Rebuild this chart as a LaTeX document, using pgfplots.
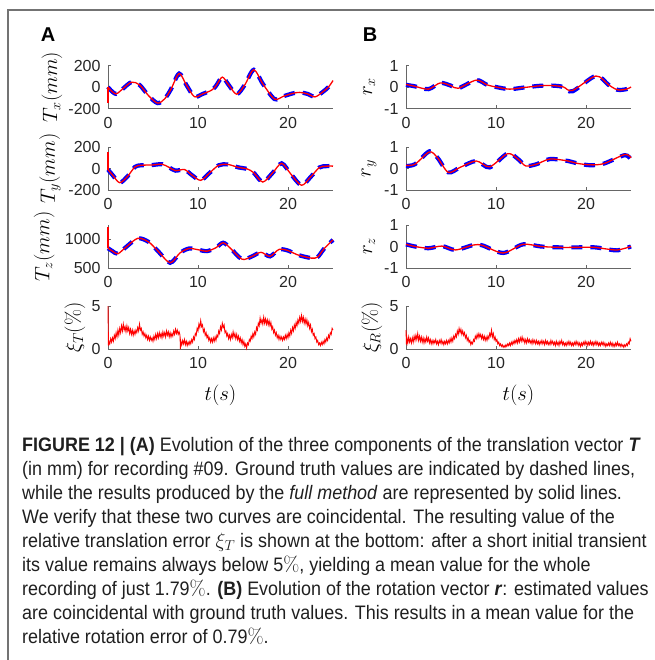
\documentclass[border=0pt]{standalone}
\usepackage[no-math]{fontspec}
\setmainfont{Liberation Sans}
\newfontfamily\capfont[FakeStretch=0.92]{Liberation Sans}
\usepackage{pgfplots}
\pgfplotsset{compat=1.18}

\definecolor{gtblue}{RGB}{0,0,255}
\definecolor{estred}{RGB}{255,0,0}
\definecolor{axgray}{RGB}{38,38,38}

\pgfplotsset{
  panel/.style={
    scale only axis, width=225pt, height=43pt,
    anchor=south west,
    xmin=0, xmax=25,
    xtick={0,10,20}, xticklabels={0,10,20},
    axis lines=left, axis line style={-, black!60, line width=0.8pt},
    tick align=inside, major tick length=3pt,
    tick style={black!60, line width=0.8pt},
    tick label style={font=\fontsize{16}{16}\selectfont, text=axgray},
    xticklabel style={yshift=-5pt},
    yticklabel style={xshift=-4pt},
    every axis y label/.style={rotate=90, anchor=center, font=\fontsize{22}{24}\selectfont},
    every axis x label/.style={at={(axis description cs:0.5,0)}, anchor=center, yshift=-46pt, font=\fontsize{22}{24}\selectfont},
    clip=false,
  },
  gt/.style={gtblue, line width=4.2pt, dash pattern=on 11pt off 8pt},
  est/.style={estred, line width=1.3pt},
  err/.style={estred, line width=0.9pt},
}

\begin{document}
\begin{tikzpicture}
\path[use as bounding box] (0pt,0pt) rectangle (654pt,-660pt);
\draw[black!55, line width=1.2pt] (8pt,-660pt) -- (8pt,-10pt) -- (654pt,-10pt);

\node[font=\bfseries\fontsize{20}{20}\selectfont] at (48pt,-35pt) {A};
\node[font=\bfseries\fontsize{20}{20}\selectfont] at (370pt,-35pt) {B};

% ---- column A ----
\begin{axis}[panel, at={(108pt,-108.5pt)},
  ymin=-200, ymax=200, ytick={-200,0,200}, yticklabels={-200,0,200},
  ylabel={$T_x(mm)$}, ylabel style={at={(axis description cs:-0.249,0.5)}}]
\addplot[gt, smooth] coordinates {(0,0)(0.3,-30)(0.9,-64)(1.6,-20)(2.6,45)(3.5,20)(4.5,-80)(5.5,-150)(6.3,-110)(7,-20)(7.9,125)(8.7,20)(9.6,-90)(10.5,-65)(11.5,-30)(12,10)(12.7,92)(13.4,20)(14.3,-67)(15.2,20)(16.2,160)(17.2,30)(18.5,-112)(19.5,-86)(20.5,-60)(21.3,-50)(22.2,-65)(23,-92)(23.8,-50)(24.5,0)(25,60)};
\addplot[est] coordinates {(0,-150)(0,0)};
\addplot[est, smooth] coordinates {(0,0)(0.3,-30)(0.9,-64)(1.6,-20)(2.6,45)(3.5,20)(4.5,-80)(5.5,-150)(6.3,-110)(7,-20)(7.9,125)(8.7,20)(9.6,-90)(10.5,-65)(11.5,-30)(12,10)(12.7,92)(13.4,20)(14.3,-67)(15.2,20)(16.2,160)(17.2,30)(18.5,-112)(19.5,-86)(20.5,-60)(21.3,-50)(22.2,-65)(23,-92)(23.8,-50)(24.5,0)(25,60)};
\end{axis}

\begin{axis}[panel, at={(108pt,-190pt)},
  ymin=-200, ymax=200, ytick={-200,0,200}, yticklabels={-200,0,200},
  ylabel={$T_y(mm)$}, ylabel style={at={(axis description cs:-0.258,0.5)}}]
\addplot[gt, smooth] coordinates {(0,-10)(0.5,-60)(1.3,-132)(2.2,-70)(3,15)(3.7,30)(5,33)(6,40)(6.8,10)(7.5,-20)(8.5,-10)(9.3,-60)(10.3,-110)(11.3,-40)(12.3,30)(13.3,38)(14.5,10)(15.5,-5)(16.2,-40)(17.2,-126)(18.3,-40)(19.3,48)(20.3,-50)(21.5,-156)(22.5,-80)(23.5,10)(24.3,22)(25,22)};
\addplot[est] coordinates {(0,150)(0,-10)};
\addplot[est, smooth] coordinates {(0,-10)(0.5,-60)(1.3,-132)(2.2,-70)(3,15)(3.7,30)(5,33)(6,40)(6.8,10)(7.5,-20)(8.5,-10)(9.3,-60)(10.3,-110)(11.3,-40)(12.3,30)(13.3,38)(14.5,10)(15.5,-5)(16.2,-40)(17.2,-126)(18.3,-40)(19.3,48)(20.3,-50)(21.5,-156)(22.5,-80)(23.5,10)(24.3,22)(25,22)};
\end{axis}

\begin{axis}[panel, at={(108pt,-268pt)},
  ymin=500, ymax=1240, ytick={500,1000}, yticklabels={500,1000},
  ylabel={$T_z(mm)$}, ylabel style={at={(axis description cs:-0.284,0.5)}}]
\addplot[gt, smooth] coordinates {(0,840)(0.5,790)(1.1,745)(2,860)(3.3,1010)(4.5,950)(5.5,800)(6.9,590)(8,760)(9,835)(10,815)(11,790)(12,850)(12.8,935)(13.6,840)(14.9,650)(16,700)(17,770)(18,700)(19,820)(20,800)(21,730)(22.6,670)(23.3,690)(24,830)(25,985)};
\addplot[est] coordinates {(0,1210)(0,840)};
\addplot[est, smooth] coordinates {(0,840)(0.5,790)(1.1,745)(2,860)(3.3,1010)(4.5,950)(5.5,800)(6.9,590)(8,760)(9,835)(10,815)(11,790)(12,850)(12.8,935)(13.6,840)(14.9,650)(16,700)(17,770)(18,700)(19,820)(20,800)(21,730)(22.6,670)(23.3,690)(24,830)(25,985)};
\end{axis}

\begin{axis}[panel, at={(108pt,-349pt)},
  ymin=0, ymax=5, ytick={0,5}, yticklabels={0,5},
  ylabel={$\xi_T(\%)$}, ylabel style={at={(axis description cs:-0.147,0.5)}},
  xlabel={$t(s)$}]
\addplot[err] coordinates {(0,5.0)(0.05,0.4)(0.1,0.9)(0.2,0.6)(0.3,1.2)(0.4,0.8)(0.5,1.3)(0.6,0.9)(0.7,1.6)(0.8,1.2)(0.9,1.9)(1.0,1.4)(1.1,2.2)(1.2,1.6)(1.3,2.4)(1.4,1.9)(1.5,2.7)(1.6,2.1)(1.7,2.9)(1.8,2.2)(1.9,2.6)(2.0,2.0)(2.1,2.7)(2.2,2.1)(2.3,2.5)(2.4,1.8)(2.5,2.3)(2.6,1.7)(2.7,2.2)(2.8,1.6)(2.9,2.1)(3.0,1.7)(3.1,2.2)(3.2,1.9)(3.3,2.5)(3.4,2.1)(3.5,2.9)(3.6,2.2)(3.7,2.4)(3.8,1.7)(3.9,2.0)(4.0,1.5)(4.1,1.8)(4.2,1.3)(4.3,1.6)(4.4,1.1)(4.5,1.5)(4.6,1.0)(4.7,1.4)(4.8,1.0)(4.9,1.3)(5.0,0.9)(5.1,1.5)(5.2,1.1)(5.3,1.7)(5.4,1.2)(5.5,1.8)(5.6,1.3)(5.7,1.9)(5.8,1.4)(5.9,1.8)(6.0,1.3)(6.1,2.0)(6.2,1.5)(6.3,1.9)(6.4,1.4)(6.5,2.1)(6.6,1.6)(6.7,2.0)(6.8,1.4)(6.9,1.9)(7.0,1.4)(7.1,1.8)(7.2,1.5)(7.3,2.1)(7.4,1.7)(7.5,2.3)(7.6,1.8)(7.7,2.2)(7.8,1.7)(7.9,2.0)(8.0,1.6)(8.05,0.0)(8.1,0.9)(8.2,0.5)(8.3,1.0)(8.4,0.6)(8.5,1.1)(8.6,0.5)(8.7,0.9)(8.8,0.4)(8.9,0.8)(9.0,0.5)(9.1,0.9)(9.2,0.6)(9.3,1.1)(9.4,0.8)(9.5,1.4)(9.6,1.1)(9.7,1.8)(9.8,1.6)(9.9,2.4)(10.0,2.1)(10.1,2.9)(10.2,2.5)(10.3,3.3)(10.4,2.6)(10.5,2.8)(10.6,2.0)(10.7,2.3)(10.8,1.6)(10.9,1.9)(11.0,1.3)(11.1,1.6)(11.2,1.0)(11.3,1.3)(11.4,0.8)(11.5,1.2)(11.6,0.8)(11.7,1.3)(11.8,0.9)(11.9,1.4)(12.0,1.0)(12.1,1.6)(12.2,1.4)(12.3,2.1)(12.4,1.8)(12.5,2.6)(12.6,2.2)(12.7,3.0)(12.8,2.5)(12.9,2.8)(13.0,1.9)(13.1,2.1)(13.2,1.5)(13.3,1.8)(13.4,1.2)(13.5,1.6)(13.6,1.1)(13.7,1.7)(13.8,1.3)(13.9,2.0)(14.0,1.4)(14.1,1.8)(14.2,1.2)(14.3,1.7)(14.4,1.1)(14.5,1.5)(14.6,0.9)(14.7,1.3)(14.8,0.7)(14.9,1.1)(15.0,0.5)(15.1,0.9)(15.2,0.3)(15.3,0.6)(15.4,0.1)(15.5,0.7)(15.6,0.5)(15.7,1.1)(15.8,0.9)(15.9,1.5)(16.0,1.2)(16.1,1.8)(16.2,1.4)(16.3,2.0)(16.4,1.7)(16.5,2.5)(16.6,2.2)(16.7,3.0)(16.8,2.7)(16.9,3.6)(17.0,3.0)(17.1,3.4)(17.2,2.9)(17.3,3.7)(17.4,3.0)(17.5,3.5)(17.6,2.9)(17.7,3.4)(17.8,2.8)(17.9,3.3)(18.0,2.7)(18.1,3.1)(18.2,2.3)(18.3,2.6)(18.4,1.9)(18.5,2.2)(18.6,1.6)(18.7,1.9)(18.8,1.3)(18.9,1.6)(19.0,1.1)(19.1,1.5)(19.2,1.1)(19.3,1.4)(19.4,1.0)(19.5,1.4)(19.6,1.1)(19.7,1.6)(19.8,1.2)(19.9,1.7)(20.0,1.3)(20.1,1.9)(20.2,1.5)(20.3,2.2)(20.4,1.8)(20.5,2.5)(20.6,2.1)(20.7,2.8)(20.8,2.4)(20.9,3.1)(21.0,2.7)(21.1,3.4)(21.2,3.0)(21.3,3.7)(21.4,3.2)(21.5,3.9)(21.6,3.2)(21.7,3.7)(21.8,3.0)(21.9,3.5)(22.0,2.9)(22.1,3.4)(22.2,2.7)(22.3,3.1)(22.4,2.4)(22.5,2.8)(22.6,2.0)(22.7,2.3)(22.8,1.6)(22.9,1.8)(23.0,1.2)(23.1,1.4)(23.2,0.8)(23.3,1.0)(23.4,0.5)(23.5,0.7)(23.6,0.4)(23.7,0.8)(23.8,0.5)(23.9,0.9)(24.0,0.6)(24.1,1.1)(24.2,0.8)(24.3,1.3)(24.4,1.0)(24.5,1.6)(24.6,1.3)(24.7,1.9)(24.8,1.7)(24.9,2.4)(25.0,2.2)};
\end{axis}

% ---- column B ----
\begin{axis}[panel, at={(406pt,-108.5pt)},
  ymin=-1, ymax=1, ytick={-1,0,1}, yticklabels={-1,0,1},
  ylabel={$r_x$}, ylabel style={at={(axis description cs:-0.164,0.5)}}]
\addplot[gt, smooth] coordinates {(0,0.1)(1,0.03)(2.5,-0.1)(3.8,0.19)(5,0.06)(5.8,-0.06)(7.8,0.32)(9,0.1)(10,0)(11.5,-0.1)(13,-0.03)(15,0.06)(16.5,0.06)(17.5,0)(18.5,-0.2)(21.1,0.52)(22.5,0.1)(23.5,-0.13)(24.5,-0.1)(25,0)};
\addplot[est, smooth] coordinates {(0,0.12)(1,0.03)(2.5,-0.1)(3.8,0.19)(5,0.06)(5.8,-0.06)(7.8,0.32)(9,0.1)(10,0)(11.5,-0.1)(13,-0.03)(15,0.06)(16.5,0.06)(17.5,0)(18.5,-0.16)(21.1,0.51)(22.5,0.1)(23.5,-0.13)(24.5,-0.1)(25,0)};
\end{axis}

\begin{axis}[panel, at={(406pt,-190pt)},
  ymin=-1, ymax=1, ytick={-1,0,1}, yticklabels={-1,0,1},
  ylabel={$r_y$}, ylabel style={at={(axis description cs:-0.164,0.5)}}]
\addplot[gt, smooth] coordinates {(0,0.12)(1,0.2)(2.6,0.8)(3.5,0.5)(4.7,-0.18)(6,0.05)(7.8,0.35)(9.3,0.05)(11.3,0.7)(12.5,0.42)(13.3,0.12)(14.5,0.2)(16,0.44)(18,0.35)(19,0.24)(20.5,0.15)(22,0.23)(24.3,0.62)(25,0.4)};
\addplot[est, smooth] coordinates {(0,0.15)(1,0.2)(2.6,0.77)(3.5,0.5)(4.7,-0.18)(6,0.05)(7.8,0.35)(9.3,0.08)(11.3,0.69)(12.5,0.42)(13.3,0.12)(14.5,0.2)(16,0.44)(18,0.35)(19,0.24)(20.5,0.17)(22,0.23)(24.3,0.65)(25,0.5)};
\end{axis}

\begin{axis}[panel, at={(406pt,-268pt)},
  ymin=-1, ymax=1, ytick={-1,0,1}, yticklabels={-1,0,1},
  ylabel={$r_z$}, ylabel style={at={(axis description cs:-0.164,0.5)}}]
\addplot[gt, smooth] coordinates {(0,0.1)(1,0)(2.5,-0.08)(4,0.02)(5.5,-0.16)(7.5,0.07)(8.5,0.05)(10.8,-0.3)(13,0.1)(15,0)(17,-0.04)(19,-0.04)(21,-0.04)(22,-0.1)(23.5,-0.18)(25,0)};
\addplot[est, smooth] coordinates {(0,0.1)(1,0)(2.5,-0.08)(4,0.02)(5.5,-0.16)(7.5,0.07)(8.5,0.05)(10.8,-0.3)(13,0.1)(15,0)(17,-0.04)(19,-0.04)(21,-0.04)(22,-0.1)(23.5,-0.16)(25,0)};
\end{axis}

\begin{axis}[panel, at={(406pt,-349pt)},
  ymin=0, ymax=5, ytick={0,5}, yticklabels={0,5},
  ylabel={$\xi_R(\%)$}, ylabel style={at={(axis description cs:-0.151,0.5)}},
  xlabel={$t(s)$}]
\addplot[err] coordinates {(0,2.2)(0.05,0.5)(0.1,1.3)(0.2,0.7)(0.3,1.4)(0.4,0.8)(0.5,1.2)(0.6,0.7)(0.7,1.3)(0.8,0.8)(0.9,1.5)(1.0,1.0)(1.1,1.6)(1.2,1.1)(1.3,1.8)(1.4,1.0)(1.5,1.5)(1.6,0.9)(1.7,1.4)(1.8,0.8)(1.9,1.3)(2.0,0.7)(2.1,1.2)(2.2,0.8)(2.3,1.4)(2.4,0.9)(2.5,1.3)(2.6,0.7)(2.7,1.1)(2.8,0.6)(2.9,1.0)(3.0,0.6)(3.1,1.0)(3.2,0.7)(3.3,1.1)(3.4,0.6)(3.5,0.9)(3.6,0.5)(3.7,1.0)(3.8,0.7)(3.9,1.1)(4.0,0.6)(4.1,0.9)(4.2,0.5)(4.3,0.9)(4.4,0.6)(4.5,1.0)(4.6,0.6)(4.7,1.0)(4.8,0.7)(4.9,1.2)(5.0,0.8)(5.1,1.3)(5.2,0.9)(5.3,1.5)(5.4,1.2)(5.5,1.7)(5.6,1.4)(5.7,2.1)(5.8,1.7)(5.9,2.4)(6.0,1.9)(6.1,2.3)(6.2,1.7)(6.3,2.1)(6.4,1.6)(6.5,1.9)(6.6,1.3)(6.7,1.6)(6.8,1.0)(6.9,1.3)(7.0,0.8)(7.1,1.0)(7.2,0.5)(7.3,0.8)(7.4,0.6)(7.5,1.1)(7.6,0.9)(7.7,1.5)(7.8,1.2)(7.9,1.7)(8.0,1.3)(8.1,1.8)(8.2,1.4)(8.3,1.7)(8.4,1.2)(8.5,1.6)(8.6,1.1)(8.7,1.5)(8.8,1.0)(8.9,1.4)(9.0,1.0)(9.1,1.5)(9.2,1.2)(9.3,1.8)(9.4,1.5)(9.5,2.2)(9.6,1.4)(9.7,1.8)(9.8,1.1)(9.9,1.4)(10.0,0.9)(10.1,1.1)(10.2,0.6)(10.3,0.8)(10.4,0.4)(10.5,0.6)(10.6,0.3)(10.7,0.5)(10.8,0.2)(10.9,0.4)(11.0,0.2)(11.1,0.5)(11.2,0.3)(11.3,0.6)(11.4,0.4)(11.5,0.7)(11.6,0.4)(11.7,0.8)(11.8,0.5)(11.9,0.9)(12.0,0.6)(12.1,1.0)(12.2,0.7)(12.3,1.1)(12.4,0.7)(12.5,1.2)(12.6,0.8)(12.7,1.3)(12.8,0.9)(12.9,1.4)(13.0,0.9)(13.1,1.2)(13.2,0.7)(13.3,1.1)(13.4,0.7)(13.5,1.2)(13.6,0.8)(13.7,1.1)(13.8,0.7)(13.9,1.0)(14.0,0.6)(14.1,1.1)(14.2,0.7)(14.3,1.0)(14.4,0.6)(14.5,1.0)(14.6,0.6)(14.7,0.9)(14.8,0.5)(14.9,0.9)(15.0,0.6)(15.1,1.0)(15.2,0.6)(15.3,0.9)(15.4,0.5)(15.5,1.0)(15.6,0.6)(15.7,0.9)(15.8,0.5)(15.9,0.8)(16.0,0.5)(16.1,1.0)(16.2,0.6)(16.3,0.9)(16.4,0.5)(16.5,0.8)(16.6,0.4)(16.7,0.9)(16.8,0.5)(16.9,0.8)(17.0,0.4)(17.1,0.9)(17.2,0.6)(17.3,1.0)(17.4,0.5)(17.5,0.8)(17.6,0.4)(17.7,0.7)(17.8,0.4)(17.9,0.8)(18.0,0.5)(18.1,0.9)(18.2,0.5)(18.3,0.8)(18.4,0.4)(18.5,0.7)(18.6,0.4)(18.7,0.8)(18.8,0.5)(18.9,0.9)(19.0,0.5)(19.1,0.8)(19.2,0.4)(19.3,0.7)(19.4,0.3)(19.5,0.7)(19.6,0.4)(19.7,0.8)(19.8,0.5)(19.9,0.9)(20.0,0.5)(20.1,0.8)(20.2,0.4)(20.3,0.8)(20.4,0.5)(20.5,0.9)(20.6,0.5)(20.7,0.8)(20.8,0.4)(20.9,0.8)(21.0,0.5)(21.1,0.9)(21.2,0.5)(21.3,0.8)(21.4,0.4)(21.5,0.7)(21.6,0.4)(21.7,0.8)(21.8,0.5)(21.9,0.8)(22.0,0.4)(22.1,0.7)(22.2,0.3)(22.3,0.6)(22.4,0.4)(22.5,0.7)(22.6,0.4)(22.7,0.8)(22.8,0.4)(22.9,0.7)(23.0,0.3)(23.1,0.6)(23.2,0.3)(23.3,0.7)(23.4,0.4)(23.5,0.8)(23.6,0.4)(23.7,0.6)(23.8,0.3)(23.9,0.6)(24.0,0.3)(24.1,0.5)(24.2,0.2)(24.3,0.5)(24.4,0.3)(24.5,0.6)(24.6,0.4)(24.7,0.8)(24.8,0.6)(24.9,1.2)(25.0,0.9)};
\end{axis}

% ---- caption ----
\begin{scope}[every node/.style={anchor=base west, inner sep=0pt, text=black!88,
    font=\capfont\fontsize{19.5}{22}\selectfont}]
\node at (22pt,-451pt) {\textbf{FIGURE 12 | (A)} Evolution of the three components of the translation vector \textbf{\textit{T}}};
\node at (22pt,-475pt) {(in mm) for recording \#09. Ground truth values are indicated by dashed lines,};
\node at (22pt,-499pt) {while the results produced by the \textit{full method} are represented by solid lines.};
\node at (22pt,-523pt) {We verify that these two curves are coincidental. The resulting value of the};
\node at (22pt,-547pt) {relative translation error $\xi_T$ is shown at the bottom: after a short initial transient};
\node at (22pt,-571pt) {its value remains always below 5$\%$, yielding a mean value for the whole};
\node at (22pt,-595pt) {recording of just 1.79$\%$. \textbf{(B)} Evolution of the rotation vector \textbf{\textit{r}}: estimated values};
\node at (22pt,-619pt) {are coincidental with ground truth values. This results in a mean value for the};
\node at (22pt,-643pt) {relative rotation error of 0.79$\%$.};
\end{scope}
\end{tikzpicture}
\end{document}
